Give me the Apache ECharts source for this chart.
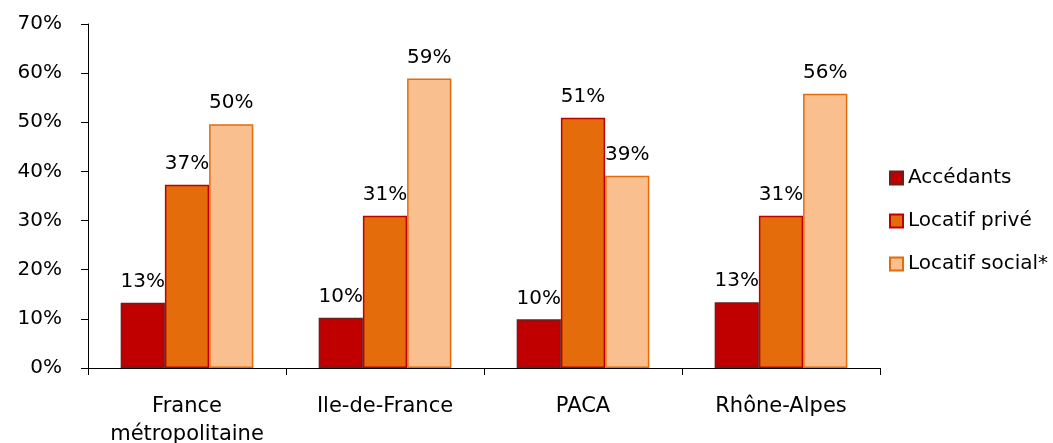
<!DOCTYPE html>
<html>
<head>
<meta charset="utf-8">
<script src="https://cdn.jsdelivr.net/npm/echarts@6/dist/echarts.min.js"></script>
<style>
  html, body { margin: 0; padding: 0; background: #fff; }
  #main { width: 1053px; height: 443px; }
</style>
</head>
<body>
<div id="main"></div>
<script>
// données
const categories = ['France\nmétropolitaine', 'Ile-de-France', 'PACA', 'Rhône-Alpes'];
const accedants = [13.3, 10.2, 9.9, 13.4];
const locatifPrive = [37.3, 31, 50.9, 31];
const locatifSocial = [49.6, 58.9, 39.1, 55.8];
const yTicks = [0, 10, 20, 30, 40, 50, 60, 70];

const font = 'DejaVu Sans';

function serie(name, data, fill, border) {
  return {
    name: name,
    type: 'bar',
    data: data,
    barGap: '0%',
    barCategoryGap: '33%',
    itemStyle: { color: fill, borderColor: border, borderWidth: 1.5 },
    label: {
      show: true,
      position: 'top',
      distance: 11,
      color: '#000',
      fontFamily: font,
      fontSize: 20,
      formatter: p => Math.round(p.value) + '%'
    }
  }
}

var chart = echarts.init(document.getElementById('main'));
chart.setOption({
  animation: false,
  textStyle: { fontFamily: font },
  grid: { left: 88, right: 173, top: 24, bottom: 75, containLabel: false, outerBoundsMode: 'none' },
  legend: {
    orient: 'vertical',
    left: 884,
    top: 163,
    icon: 'rect',
    itemWidth: 13,
    itemHeight: 13,
    itemGap: 23,
    textStyle: { fontFamily: font, fontSize: 20, color: '#000' },
    data: ['Accédants', 'Locatif privé', 'Locatif social*']
  },
  xAxis: {
    type: 'category',
    data: categories,
    axisLine: { lineStyle: { color: '#000', width: 1 } },
    axisTick: { show: true, interval: 0, length: 7, lineStyle: { color: '#000' } },
    axisLabel: { interval: 0, hideOverlap: false, color: '#000', fontFamily: font, fontSize: 21, margin: 25, lineHeight: 28 }
  },
  yAxis: {
    type: 'value',
    min: yTicks[0],
    max: yTicks[yTicks.length - 1],
    interval: 10,
    axisLine: { show: true, lineStyle: { color: '#000', width: 1 } },
    axisTick: { show: true, length: 7, lineStyle: { color: '#000' } },
    splitLine: { show: false },
    axisLabel: { color: '#000', fontFamily: font, fontSize: 20, margin: 26, formatter: '{value}%' }
  },
  series: [
    serie('Accédants', accedants, '#c00000', '#6e1e1e'),
    serie('Locatif privé', locatifPrive, '#e46c0a', '#c00000'),
    serie('Locatif social*', locatifSocial, '#f9bf8f', '#e46c0a')
  ]
});
</script>
</body>
</html>
